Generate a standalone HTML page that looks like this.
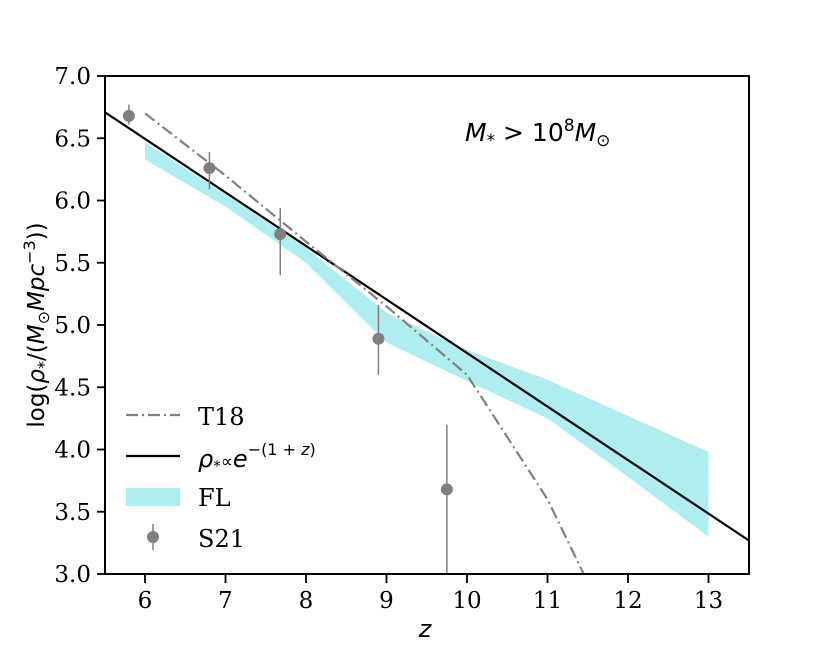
<!DOCTYPE html>
<html><head><meta charset="utf-8"><style>
body{margin:0;background:#fff}
</style></head><body>
<svg id="c" width="830" height="646" xmlns="http://www.w3.org/2000/svg" style="font-family:'DejaVu Sans',sans-serif">
</svg>
<script>
const xTicks=[6,7,8,9,10,11,12,13];
const yTicks=[3.0,3.5,4.0,4.5,5.0,5.5,6.0,6.5,7.0];
const s21Z=[5.8,6.8,7.68,8.9,9.75];
const s21Y=[6.68,6.26,5.73,4.89,3.68];
const s21Up=[0.09,0.13,0.21,0.27,0.52];
const s21Dn=[0.07,0.17,0.33,0.29,0.75];
const t18Z=[6,7,8,9,10,10.5,11,11.45];
const t18Y=[6.7,6.2,5.67,5.15,4.6,4.1,3.6,3.0];
const flZ=[6,7,8,9,10,11,12,13];
const flHi=[6.47,6.05,5.62,5.1,4.8,4.56,4.27,3.98];
const flLo=[6.33,5.95,5.5,4.86,4.55,4.25,3.78,3.3];
const fitZ=[5.5,13.5];
const fitY=[6.71,3.27];
const X=z=>145+(z-6)*80.5;
const Y=v=>76+(7-v)*124.5;
const NS="http://www.w3.org/2000/svg";
const svg=document.getElementById('c');
function mk(t,a,p){const e=document.createElementNS(NS,t);for(const k in a)e.setAttribute(k,a[k]);(p||svg).appendChild(e);return e;}
const clip=mk('clipPath',{id:'cp'});mk('rect',{x:105,y:76,width:644,height:498},clip);
const g=mk('g',{'clip-path':'url(#cp)'});
let pts=flZ.map((z,i)=>X(z)+','+Y(flHi[i])).concat(flZ.slice().reverse().map((z,i)=>X(z)+','+Y(flLo[flZ.length-1-i])));
const band=mk('polygon',{points:pts.join(' '),fill:'#afeeee'},g);


const fit=mk('polyline',{points:fitZ.map((z,i)=>X(z)+','+Y(fitY[i])).join(' '),fill:'none',stroke:'#000','stroke-width':2.2},g);


const t18=mk('polyline',{points:t18Z.map((z,i)=>X(z)+','+Y(t18Y[i])).join(' '),fill:'none',stroke:'#808080','stroke-width':2.2,'stroke-dasharray':'12 4 2 4'},g);


s21Z.forEach((z,i)=>{
 const l=mk('line',{x1:X(z),x2:X(z),y1:Y(s21Y[i]+s21Up[i]),y2:Y(s21Y[i]-s21Dn[i]),stroke:'#808080','stroke-width':1.5},g);
 
 
 const c=mk('circle',{cx:X(z),cy:Y(s21Y[i]),r:6,fill:'#808080'},g);
 
 
});
const fr=mk('rect',{x:105,y:76,width:644,height:498,fill:'none',stroke:'#000','stroke-width':2});


xTicks.forEach(t=>{
 mk('line',{x1:X(t),x2:X(t),y1:575,y2:583,stroke:'#000','stroke-width':1.8});
 const tx=mk('text',{x:X(t),y:608,'text-anchor':'middle','font-size':23,style:"font-family:'DejaVu Serif',serif"});
 tx.textContent=t;
 
 
});
yTicks.forEach(t=>{
 mk('line',{x1:97,x2:105,y1:Y(t),y2:Y(t),stroke:'#000','stroke-width':1.8});
 const tx=mk('text',{x:91,y:Y(t)+8,'text-anchor':'end','font-size':23,style:"font-family:'DejaVu Serif',serif"});
 tx.textContent=t.toFixed(1);
 
 
});
</script>
<svg width="830" height="646" style="position:absolute;left:0;top:0;font-family:'DejaVu Sans',sans-serif" xmlns="http://www.w3.org/2000/svg">
<text x="425" y="637" font-size="24" font-style="italic" text-anchor="middle">z</text>
<text transform="translate(44,325) rotate(-90)" font-size="23" text-anchor="middle">log(<tspan font-style="italic">ρ</tspan><tspan font-size="16" dy="5">*</tspan><tspan dy="-5">/(</tspan><tspan font-style="italic">M</tspan><tspan font-size="16" dy="5">⊙</tspan><tspan dy="-5" font-style="italic">Mpc</tspan><tspan font-size="16" dy="-9">−3</tspan><tspan dy="9">))</tspan></text>
<text x="465" y="141" font-size="25"><tspan font-style="italic">M</tspan><tspan font-size="17" dy="5">*</tspan><tspan dy="-5"> &gt; 10</tspan><tspan font-size="17" dy="-10">8</tspan><tspan dy="10" font-style="italic">M</tspan><tspan font-size="17" dy="5">⊙</tspan></text>
<g>
<line x1="126" y1="415" x2="180" y2="415" stroke="#808080" stroke-width="2.2" stroke-dasharray="12 4 2 4"/>
<text x="198" y="425" font-size="24" style="font-family:'DejaVu Serif',serif">T18</text>
<line x1="126" y1="456" x2="180" y2="456" stroke="#000" stroke-width="2.2"/>
<text x="198" y="467" font-size="24"><tspan font-style="italic">ρ</tspan><tspan font-size="15" dy="4">*</tspan><tspan dy="-4" font-size="17">∝</tspan><tspan font-style="italic">e</tspan><tspan font-size="16" dy="-12">−(1 + </tspan><tspan font-size="16" font-style="italic">z</tspan><tspan font-size="16">)</tspan></text>
<rect x="126" y="488" width="54" height="18" fill="#afeeee"/>
<text x="198" y="506" font-size="24" style="font-family:'DejaVu Serif',serif">FL</text>
<line x1="153" y1="524" x2="153" y2="550" stroke="#808080" stroke-width="1.5"/>
<circle cx="153" cy="537" r="6" fill="#808080"/>
<text x="198" y="547" font-size="24" style="font-family:'DejaVu Serif',serif">S21</text>
</g>
</svg>
</body></html>
